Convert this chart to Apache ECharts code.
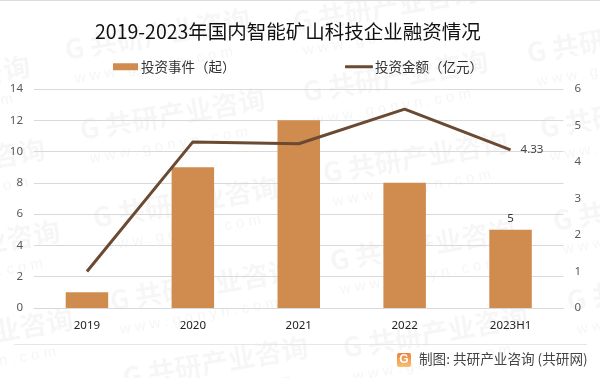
<!DOCTYPE html>
<html>
<head>
<meta charset="utf-8">
<style>html,body{margin:0;padding:0;background:#fff}#main{width:600px;height:378px}</style>
<script src="https://cdn.jsdelivr.net/npm/echarts@6/dist/echarts.min.js"></script>
</head>
<body>
<div id="main"></div>
<script>
var categories = ['2019', '2020', '2021', '2022', '2023H1'];
var eventCounts = [1, 9, 12, 8, 5];
var amounts = [1.0, 4.55, 4.5, 5.45, 4.33];
var leftTicks = [0, 2, 4, 6, 8, 10, 12, 14];
var rightTicks = [0, 1, 2, 3, 4, 5, 6];
// 水印位置
var markX = [65, 80, -155, -140, 527, 303, 323, 540, 93, -125, 110, -112, 123, 330, 343, 553, 567, 293];
var markY = [50, 130, 97, 180, 53, 92, 173, 128, 218, 262, 301, 350, 378, 261, 348, 221, 301, 22];

var font = '"Noto Sans CJK SC", sans-serif';
var numFont = '"Noto Sans", sans-serif';
var myChart = echarts.init(document.getElementById('main'));

var graphics = [];
markX.forEach(function (x, i) {
    graphics.push({
        type: 'text', x: x, y: markY[i], rotation: 0.17, z: -10, silent: true,
        style: { text: 'G 共研产业咨询', font: 'bold 27px ' + font, fill: 'rgba(0,0,0,0.035)', verticalAlign: 'middle' }
    });
    graphics.push({
        type: 'text', x: x + 10, y: markY[i] + 29, rotation: 0.17, z: -10, silent: true,
        style: { text: 'w w w . g o n y n . c o m', font: '15px "Liberation Sans"', fill: 'rgba(0,0,0,0.045)', verticalAlign: 'middle' }
    });
});
// 页脚
graphics.push({ type: 'rect', shape: { x: 0, y: 0, width: 600, height: 1 }, style: { fill: '#dcdcdc' }, silent: true });
graphics.push({ type: 'rect', shape: { x: 14, y: 344, width: 573, height: 1 }, style: { fill: '#e6e6e6' }, silent: true });
graphics.push({
    type: 'rect', shape: { x: 397, y: 353, width: 14, height: 14, r: 2 }, silent: true,
    style: {
        fill: new echarts.graphic.LinearGradient(0, 0, 0, 1, [
            { offset: 0, color: '#f0803c' },
            { offset: 1, color: '#f8c070' }
        ])
    }
});
graphics.push({
    type: 'text', x: 404, y: 360, silent: true,
    style: { text: 'G', font: 'bold 12px "Liberation Sans"', fill: '#fff', align: 'center', verticalAlign: 'middle' }
});
graphics.push({
    type: 'text', x: 419, y: 359, silent: true,
    style: { text: '制图: 共研产业咨询 (共研网)', font: '13.6px ' + font, fill: '#444', verticalAlign: 'middle' }
});

var option = {
    animation: false,
    backgroundColor: '#fff',
    title: {
        text: '2019-2023年国内智能矿山科技企业融资情况',
        left: 90,
        top: 17,
        textStyle: { color: '#111', fontSize: 19.5, fontWeight: 'normal', fontFamily: font }
    },
    legend: [{
        top: 60,
        left: 113,
        padding: 0,
        itemGap: 0,
        itemWidth: 25,
        itemHeight: 7,
        textStyle: { color: '#333', fontSize: 13.5, padding: [0, 0, 0, -2], fontFamily: font },
        data: [{ name: '投资事件（起）', icon: 'rect' }]
    }, {
        top: 60,
        left: 345,
        padding: 0,
        itemGap: 0,
        itemWidth: 28,
        itemHeight: 3,
        textStyle: { color: '#333', fontSize: 13.5, padding: [0, 0, 0, -3], fontFamily: font },
        data: [{ name: '投资金额（亿元）', icon: 'roundRect' }]
    }],
    grid: { left: 34, right: 36.5, top: 89, bottom: 70 },
    xAxis: {
        type: 'category',
        data: categories,
        axisLine: { lineStyle: { color: '#d9d9d9' } },
        axisTick: { show: false },
        axisLabel: { color: '#222', fontSize: 11.5, margin: 12, fontFamily: numFont }
    },
    yAxis: [{
        type: 'value', min: leftTicks[0], max: leftTicks[leftTicks.length - 1], interval: 2,
        axisLine: { show: false },
        axisTick: { show: false },
        axisLabel: { color: '#595959', fontSize: 11.5, margin: 11, fontFamily: numFont },
        splitLine: { lineStyle: { color: '#d9d9d9' } }
    }, {
        type: 'value', min: rightTicks[0], max: rightTicks[rightTicks.length - 1], interval: 1,
        axisLine: { show: false },
        axisTick: { show: false },
        axisLabel: { color: '#595959', fontSize: 11.5, margin: 11, fontFamily: numFont },
        splitLine: { show: false }
    }],
    series: [{
        name: '投资事件（起）',
        type: 'bar',
        barWidth: 42.5,
        data: eventCounts,
        itemStyle: { color: '#d08c4f' },
        label: {
            show: true, position: 'top', distance: 5, color: '#333', fontSize: 11.5,
            fontFamily: numFont,
            formatter: function (p) { return p.dataIndex === 4 ? p.value : ''; }
        }
    }, {
        name: '投资金额（亿元）',
        type: 'line',
        yAxisIndex: 1,
        data: amounts,
        symbol: 'none',
        itemStyle: { color: '#6a4a32' },
        lineStyle: { color: '#6a4a32', width: 3 },
        endLabel: {
            show: true, color: '#444', fontSize: 11.5, distance: 10,
            fontFamily: numFont,
            formatter: function (p) { return p.value; }
        }
    }],
    graphic: graphics
};
myChart.setOption(option);
</script>
</body>
</html>
